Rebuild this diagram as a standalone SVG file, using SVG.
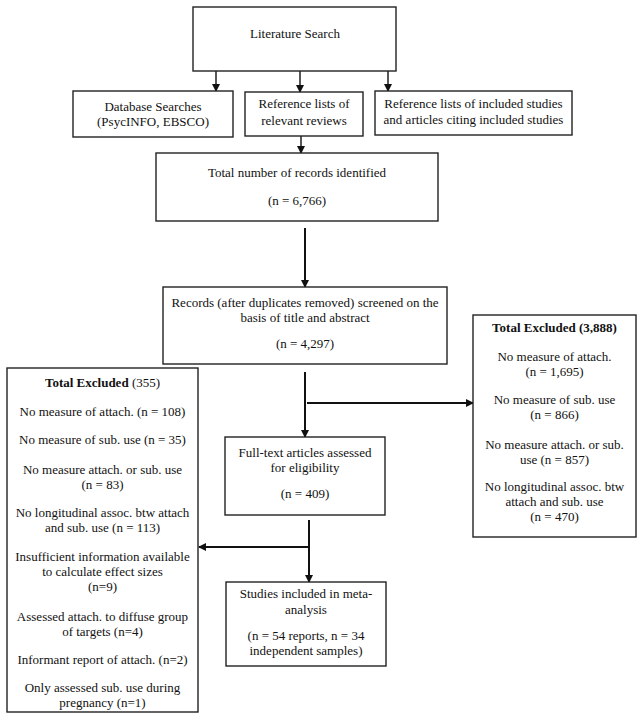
<svg xmlns="http://www.w3.org/2000/svg" width="643" height="719" viewBox="0 0 643 719">
<style>
.box{fill:#fff;stroke:#222;stroke-width:1.4}
text{font-family:"Liberation Serif","Times New Roman",serif;font-size:13px;fill:#111;text-anchor:middle}
.b{font-weight:bold}
.c{stroke:#111;stroke-width:1.4;fill:none}
.t{stroke:#111;stroke-width:2;fill:none}
</style>
<defs>
<marker id="ah" markerWidth="8" markerHeight="8" refX="7" refY="4" orient="auto" markerUnits="userSpaceOnUse">
<path d="M0,0 L8,4 L0,8 Z" fill="#111"/>
</marker>
</defs>
<rect width="643" height="719" fill="#fff"/>
<g id="connectors">
<line class="c" x1="216" y1="71" x2="216" y2="91" marker-end="url(#ah)"/>
<line class="c" x1="300" y1="71" x2="300" y2="92" marker-end="url(#ah)"/>
<line class="c" x1="388" y1="71" x2="388" y2="91" marker-end="url(#ah)"/>
<line class="c" x1="301" y1="136" x2="301" y2="153" marker-end="url(#ah)"/>
<line class="t" x1="305" y1="228" x2="305" y2="287" marker-end="url(#ah)"/>
<line class="t" x1="305" y1="372" x2="305" y2="437" marker-end="url(#ah)"/>
<line class="t" x1="307" y1="403" x2="473" y2="403" marker-end="url(#ah)"/>
<line class="t" x1="309" y1="520" x2="309" y2="582" marker-end="url(#ah)"/>
<line class="t" x1="309" y1="547" x2="199" y2="547" marker-end="url(#ah)"/>
</g>
<g id="literature-search">
<rect class="box" x="193" y="7" width="203" height="64"/>
<text x="295" y="38">Literature Search</text>
</g>
<g id="database-searches">
<rect class="box" x="73" y="91" width="160" height="46"/>
<text x="153" y="111">Database Searches</text>
<text x="153" y="126">(PsycINFO, EBSCO)</text>
</g>
<g id="reference-reviews">
<rect class="box" x="245" y="92" width="118" height="44"/>
<text x="304" y="108">Reference lists of</text>
<text x="304" y="125">relevant reviews</text>
</g>
<g id="reference-included">
<rect class="box" x="375" y="91" width="197" height="44"/>
<text x="473.5" y="108">Reference lists of included studies</text>
<text x="473.5" y="124">and articles citing included studies</text>
</g>
<g id="total-records">
<rect class="box" x="156" y="153" width="282" height="68"/>
<text x="297" y="177">Total number of records identified</text>
<text x="297" y="205">(n = 6,766)</text>
</g>
<g id="screened">
<rect class="box" x="163" y="287" width="284" height="77"/>
<text x="305" y="307">Records (after duplicates removed) screened on the</text>
<text x="305" y="322">basis of title and abstract</text>
<text x="305" y="348">(n = 4,297)</text>
</g>
<g id="excluded-screening">
<rect class="box" x="473" y="315" width="163" height="222"/>
<text x="554.5" y="332" class="b">Total Excluded (3,888)</text>
<text x="554.5" y="361">No measure of attach.</text>
<text x="554.5" y="376">(n = 1,695)</text>
<text x="554.5" y="404">No measure of sub. use</text>
<text x="554.5" y="419">(n = 866)</text>
<text x="554.5" y="449">No measure attach. or sub.</text>
<text x="554.5" y="464">use (n = 857)</text>
<text x="554.5" y="491">No longitudinal assoc. btw</text>
<text x="554.5" y="506">attach and sub. use</text>
<text x="554.5" y="521">(n = 470)</text>
</g>
<g id="full-text">
<rect class="box" x="225" y="437" width="160" height="78"/>
<text x="305" y="457">Full-text articles assessed</text>
<text x="305" y="472">for eligibility</text>
<text x="305" y="498">(n = 409)</text>
</g>
<g id="excluded-fulltext">
<rect class="box" x="7" y="368" width="191" height="344"/>
<text x="102.5" y="387"><tspan class="b">Total Excluded </tspan>(355)</text>
<text x="102.5" y="416">No measure of attach. (n = 108)</text>
<text x="102.5" y="444">No measure of sub. use (n = 35)</text>
<text x="102.5" y="474">No measure attach. or sub. use</text>
<text x="102.5" y="489">(n = 83)</text>
<text x="102.5" y="517">No longitudinal assoc. btw attach</text>
<text x="102.5" y="532">and sub. use (n = 113)</text>
<text x="102.5" y="561">Insufficient information available</text>
<text x="102.5" y="576">to calculate effect sizes</text>
<text x="102.5" y="591">(n=9)</text>
<text x="102.5" y="621">Assessed attach. to diffuse group</text>
<text x="102.5" y="636">of targets (n=4)</text>
<text x="102.5" y="664">Informant report of attach. (n=2)</text>
<text x="102.5" y="692">Only assessed sub. use during</text>
<text x="102.5" y="707">pregnancy (n=1)</text>
</g>
<g id="included">
<rect class="box" x="226" y="582" width="160" height="84"/>
<text x="306" y="598">Studies included in meta-</text>
<text x="306" y="614">analysis</text>
<text x="306" y="640">(n = 54 reports, n = 34</text>
<text x="306" y="655">independent samples)</text>
</g>
</svg>
